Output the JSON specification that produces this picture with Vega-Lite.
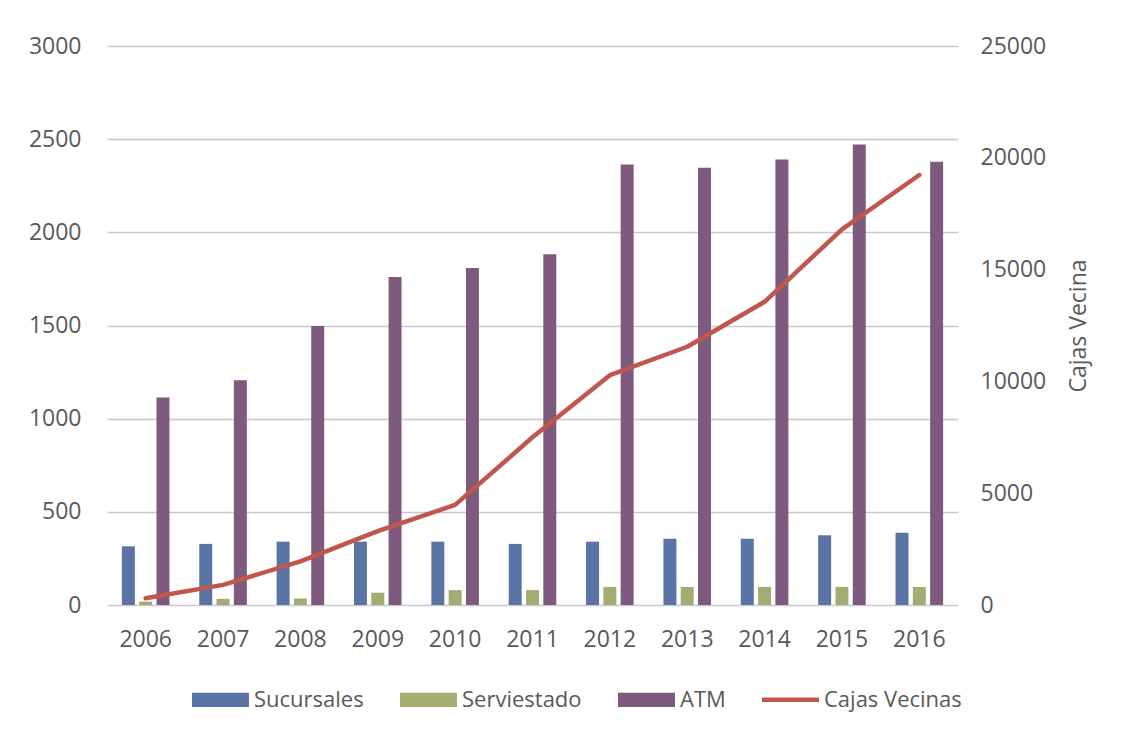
{
  "$schema": "https://vega.github.io/schema/vega-lite/v6.json",
  "width": 851,
  "height": 559,
  "autosize": {"type": "none"},
  "padding": {"left": 107, "top": 46, "right": 169, "bottom": 140},
  "background": "#ffffff",
  "config": {
    "font": "Open Sans",
    "view": {"stroke": null},
    "axis": {
      "labelFont": "Open Sans",
      "labelFontSize": 23,
      "labelColor": "#595959",
      "titleFont": "Open Sans",
      "titleColor": "#595959",
      "titleFontWeight": "normal",
      "domain": false,
      "ticks": false
    }
  },
  "data": {
    "values": [
      {"year": "2006", "serie": "Sucursales", "value": 315},
      {"year": "2007", "serie": "Sucursales", "value": 328},
      {"year": "2008", "serie": "Sucursales", "value": 340},
      {"year": "2009", "serie": "Sucursales", "value": 340},
      {"year": "2010", "serie": "Sucursales", "value": 340},
      {"year": "2011", "serie": "Sucursales", "value": 328},
      {"year": "2012", "serie": "Sucursales", "value": 340},
      {"year": "2013", "serie": "Sucursales", "value": 356},
      {"year": "2014", "serie": "Sucursales", "value": 356},
      {"year": "2015", "serie": "Sucursales", "value": 374},
      {"year": "2016", "serie": "Sucursales", "value": 388},
      {"year": "2006", "serie": "Serviestado", "value": 18},
      {"year": "2007", "serie": "Serviestado", "value": 33},
      {"year": "2008", "serie": "Serviestado", "value": 35},
      {"year": "2009", "serie": "Serviestado", "value": 66},
      {"year": "2010", "serie": "Serviestado", "value": 80},
      {"year": "2011", "serie": "Serviestado", "value": 80},
      {"year": "2012", "serie": "Serviestado", "value": 97},
      {"year": "2013", "serie": "Serviestado", "value": 97},
      {"year": "2014", "serie": "Serviestado", "value": 97},
      {"year": "2015", "serie": "Serviestado", "value": 97},
      {"year": "2016", "serie": "Serviestado", "value": 97},
      {"year": "2006", "serie": "ATM", "value": 1113},
      {"year": "2007", "serie": "ATM", "value": 1206},
      {"year": "2008", "serie": "ATM", "value": 1497},
      {"year": "2009", "serie": "ATM", "value": 1760},
      {"year": "2010", "serie": "ATM", "value": 1808},
      {"year": "2011", "serie": "ATM", "value": 1882},
      {"year": "2012", "serie": "ATM", "value": 2364},
      {"year": "2013", "serie": "ATM", "value": 2347},
      {"year": "2014", "serie": "ATM", "value": 2391},
      {"year": "2015", "serie": "ATM", "value": 2472},
      {"year": "2016", "serie": "ATM", "value": 2379},
      {"year": "2006", "serie": "Cajas Vecinas", "value": 300},
      {"year": "2007", "serie": "Cajas Vecinas", "value": 900},
      {"year": "2008", "serie": "Cajas Vecinas", "value": 1950},
      {"year": "2009", "serie": "Cajas Vecinas", "value": 3300},
      {"year": "2010", "serie": "Cajas Vecinas", "value": 4480},
      {"year": "2011", "serie": "Cajas Vecinas", "value": 7500},
      {"year": "2012", "serie": "Cajas Vecinas", "value": 10280},
      {"year": "2013", "serie": "Cajas Vecinas", "value": 11550},
      {"year": "2014", "serie": "Cajas Vecinas", "value": 13560},
      {"year": "2015", "serie": "Cajas Vecinas", "value": 16800},
      {"year": "2016", "serie": "Cajas Vecinas", "value": 19230}
    ]
  },
  "encoding": {
    "x": {
      "field": "year",
      "type": "nominal",
      "sort": null,
      "scale": {"paddingInner": 0.385, "paddingOuter": 0.1925},
      "axis": {"title": null, "labelAngle": 0, "labelPadding": 23, "grid": false}
    },
    "color": {
      "field": "serie",
      "type": "nominal",
      "scale": {
        "domain": ["Sucursales", "Serviestado", "ATM", "Cajas Vecinas"],
        "range": ["#5b74a6", "#a3ad72", "#7e5a7e", "#c0564c"]
      },
      "legend": {
        "title": null,
        "orient": "none",
        "direction": "horizontal",
        "legendX": 85,
        "legendY": 625,
        "symbolSize": 3249,
        "labelFont": "Open Sans",
        "labelFontSize": 22,
        "labelColor": "#595959",
        "labelOffset": 5,
        "columnPadding": 36,
        "symbolStrokeWidth": 0,
        "encode": {
          "symbols": {
            "update": {
              "shape": {"signal": "datum.value === 'Cajas Vecinas' ? 'M-1,-0.075H1V0.075H-1Z' : 'M-1,-0.25H1V0.25H-1Z'"},
              "fill": {"signal": "scale('color', datum.value)"},
              "stroke": {"value": "transparent"},
              "opacity": {"value": 1}
            }
          }
        }
      }
    }
  },
  "layer": [
    {
      "transform": [{"filter": "datum.serie !== 'Cajas Vecinas'"}],
      "mark": {"type": "bar"},
      "encoding": {
        "xOffset": {
          "field": "serie",
          "type": "nominal",
          "sort": ["Sucursales", "Serviestado", "ATM"],
          "scale": {"paddingInner": 0.25, "paddingOuter": 0}
        },
        "y": {
          "field": "value",
          "type": "quantitative",
          "scale": {"domain": [0, 3000], "nice": false},
          "axis": {
            "title": null,
            "format": "d",
            "values": [0, 500, 1000, 1500, 2000, 2500, 3000],
            "labelPadding": 26,
            "grid": true,
            "gridColor": "#c9c8d2",
            "gridWidth": 1.5
          }
        }
      }
    },
    {
      "transform": [{"filter": "datum.serie === 'Cajas Vecinas'"}],
      "mark": {"type": "line", "strokeWidth": 4.5, "strokeCap": "round", "strokeJoin": "round"},
      "encoding": {
        "y": {
          "field": "value",
          "type": "quantitative",
          "scale": {"domain": [0, 25000], "nice": false},
          "axis": {
            "orient": "right",
            "title": "Cajas Vecina",
            "titleFontSize": 23,
            "titleAngle": 270,
            "titlePadding": 45,
            "format": "d",
            "values": [0, 5000, 10000, 15000, 20000, 25000],
            "labelPadding": 22,
            "grid": false
          }
        }
      }
    }
  ],
  "resolve": {"scale": {"y": "independent"}}
}
